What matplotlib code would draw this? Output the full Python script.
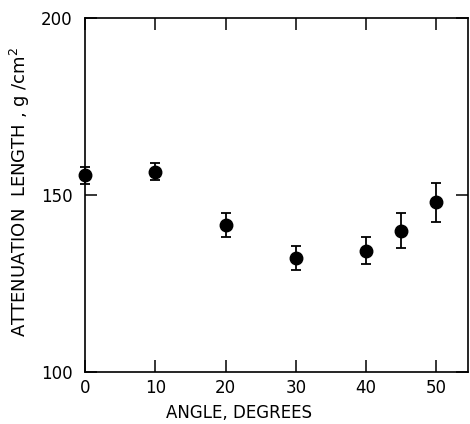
import matplotlib
matplotlib.use("Agg")
import matplotlib.pyplot as plt

# angles (degrees) and attenuation length (g/cm^2)
angle = [0, 10, 20, 30, 40, 45, 50]
atten = [155.6, 156.6, 141.5, 132.1, 134.3, 139.9, 147.9]
err = [2.4, 2.4, 3.4, 3.4, 3.8, 5.0, 5.4]

x_ticks = [0, 10, 20, 30, 40, 50]
y_ticks = [100, 150, 200]

fig = plt.figure(figsize=(4.7, 4.24), dpi=100)
ax = fig.add_axes([0.181, 0.1226, 0.815, 0.835])

eb = ax.errorbar(angle, atten, yerr=err, fmt='o', color='black', markersize=9,
                 capsize=3.5, elinewidth=1.3, capthick=1.3, zorder=3)
# let the point sitting on the y axis show in full
for art in eb.lines[0:1] + tuple(eb.lines[1]) + tuple(eb.lines[2]):
    art.set_clip_on(False)

ax.set_xlim(0, 54.5)
ax.set_ylim(100, 200)
ax.set_xticks(x_ticks)
ax.set_yticks(y_ticks)

ax.tick_params(direction='in', length=8.5, width=1.1, top=True, right=True,
               labelsize=12, colors='black')
ax.tick_params(axis='y', pad=9)
ax.tick_params(axis='x', pad=5)

for s in ax.spines.values():
    s.set_linewidth(1.2)

ax.set_xlabel('ANGLE, DEGREES', fontsize=12)
ax.xaxis.set_label_coords(0.402, -0.09)
ax.set_ylabel('ATTENUATION  LENGTH , g /cm$^2$', fontsize=13)
ax.yaxis.set_label_coords(-0.138, 0.51)

fig.savefig('out.png', dpi=100)
